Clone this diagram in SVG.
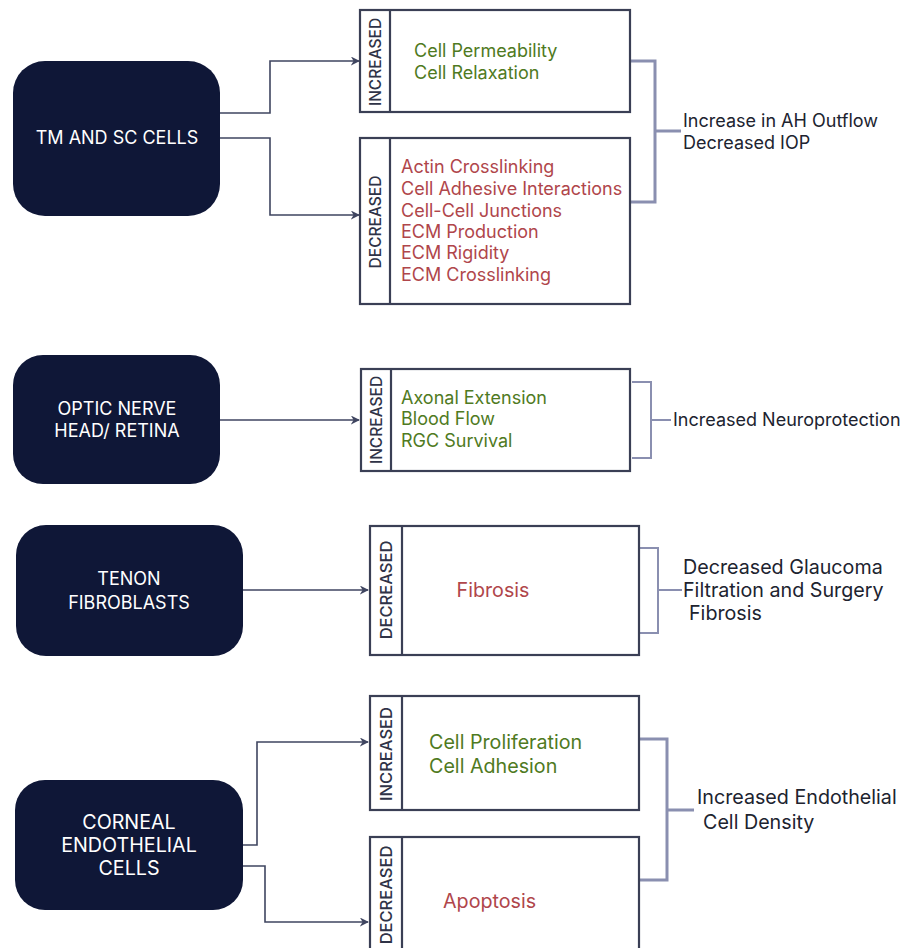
<svg xmlns="http://www.w3.org/2000/svg" width="909" height="948" viewBox="0 0 909 948">
<defs>
<marker id="ah" viewBox="0 0 10 10" refX="9" refY="5" markerWidth="9" markerHeight="9" markerUnits="userSpaceOnUse" orient="auto">
<path d="M0,0 L10,5 L0,10 L3,5 z" fill="#3f4560"/>
</marker>
<style>
.node{fill:#0f1737}
.nt{fill:#ffffff;font-family:Inter,"Liberation Sans",sans-serif;font-size:18px;text-anchor:middle}
.box{fill:#ffffff;stroke:#3a3f55;stroke-width:2.2}
.strip{stroke:#3a3f55;stroke-width:2.2}
.lab{fill:#2f3347;font-family:Inter,"Liberation Sans",sans-serif;font-size:15.5px;font-weight:500;text-anchor:middle}
.lab2{font-size:16.5px}
.g{fill:#4f7a22;font-family:Inter,"Liberation Sans",sans-serif;font-size:18px}
.r{fill:#b0464b;font-family:Inter,"Liberation Sans",sans-serif;font-size:18px}
.out{fill:#20232f;font-family:Inter,"Liberation Sans",sans-serif;font-size:18px}
.big{font-size:19.7px}
.con{fill:none;stroke:#3f4560;stroke-width:1.6}
.br{fill:none;stroke:#8a8fb0;stroke-width:3}
</style>
</defs>

<g id="connectors">
<path class="con" d="M220,113 H270 V61 H359" marker-end="url(#ah)"/>
<path class="con" d="M220,138 H270 V215 H359" marker-end="url(#ah)"/>
<path class="con" d="M220,420 H359" marker-end="url(#ah)"/>
<path class="con" d="M243,590 H368" marker-end="url(#ah)"/>
<path class="con" d="M243,845 H257 V742 H368" marker-end="url(#ah)"/>
<path class="con" d="M243,866 H265 V922 H368" marker-end="url(#ah)"/>
<path class="br" d="M630,61 H655 V202 H630 M655,131 H681"/>
<path class="br" style="stroke-width:2" d="M632,382 H651 V458 H632 M651,420 H671"/>
<path class="br" style="stroke-width:2" d="M636,548 H658 V633 H636 M658,590 H682"/>
<path class="br" d="M639,739 H667 V880 H639 M667,810 H694"/>
</g>

<g id="node-tm">
<rect class="node" x="13" y="61" width="207" height="155" rx="32"/>
<text class="nt" x="117" y="144">TM AND SC CELLS</text>
</g>

<g id="box-tm-increased">
<rect class="box" x="360" y="10" width="270" height="102"/>
<line class="strip" x1="390" y1="10" x2="390" y2="112"/>
<text class="lab" transform="translate(380.5,62) rotate(-90)">INCREASED</text>
<text class="g" x="414" y="57">Cell Permeability</text>
<text class="g" x="414" y="79">Cell Relaxation</text>
</g>

<g id="box-tm-decreased">
<rect class="box" x="360" y="138" width="270" height="166"/>
<line class="strip" x1="390" y1="138" x2="390" y2="304"/>
<text class="lab" transform="translate(380.5,222) rotate(-90)">DECREASED</text>
<text class="r" x="401" y="173">Actin Crosslinking</text>
<text class="r" x="401" y="195">Cell Adhesive Interactions</text>
<text class="r" x="401" y="217">Cell-Cell Junctions</text>
<text class="r" x="401" y="238">ECM Production</text>
<text class="r" x="401" y="259">ECM Rigidity</text>
<text class="r" x="401" y="281">ECM Crosslinking</text>
</g>

<g id="out-tm">
<text class="out" x="683" y="127">Increase in AH Outflow</text>
<text class="out" x="683" y="149">Decreased IOP</text>
</g>

<g id="node-onh">
<rect class="node" x="13" y="355" width="207" height="129" rx="30"/>
<text class="nt" x="117" y="415">OPTIC NERVE</text>
<text class="nt" x="117" y="437">HEAD/ RETINA</text>
</g>

<g id="box-onh">
<rect class="box" x="361" y="369" width="269" height="102"/>
<line class="strip" x1="391" y1="369" x2="391" y2="471"/>
<text class="lab" transform="translate(381.5,420) rotate(-90)">INCREASED</text>
<text class="g" x="401" y="404">Axonal Extension</text>
<text class="g" x="401" y="425">Blood Flow</text>
<text class="g" x="401" y="447">RGC Survival</text>
</g>

<g id="out-onh">
<text class="out" x="673" y="426">Increased Neuroprotection</text>
</g>

<g id="node-tenon">
<rect class="node" x="16" y="525" width="227" height="131" rx="30"/>
<text class="nt" x="129" y="585">TENON</text>
<text class="nt" x="129" y="609">FIBROBLASTS</text>
</g>

<g id="box-tenon">
<rect class="box" x="370" y="526" width="269" height="129"/>
<line class="strip" x1="402" y1="526" x2="402" y2="655"/>
<text class="lab lab2" transform="translate(392,590) rotate(-90)">DECREASED</text>
<text class="r big" x="493" y="597" text-anchor="middle">Fibrosis</text>
</g>

<g id="out-tenon">
<text class="out big" x="683" y="574">Decreased Glaucoma</text>
<text class="out big" x="683" y="597">Filtration and Surgery</text>
<text class="out big" x="689" y="620">Fibrosis</text>
</g>

<g id="node-corneal">
<rect class="node" x="15" y="780" width="228" height="130" rx="30"/>
<text class="nt big" x="129" y="829">CORNEAL</text>
<text class="nt big" x="129" y="852">ENDOTHELIAL</text>
<text class="nt big" x="129" y="875">CELLS</text>
</g>

<g id="box-corneal-increased">
<rect class="box" x="370" y="696" width="269" height="114"/>
<line class="strip" x1="402" y1="696" x2="402" y2="810"/>
<text class="lab lab2" transform="translate(392,754) rotate(-90)">INCREASED</text>
<text class="g big" x="429" y="749">Cell Proliferation</text>
<text class="g big" x="429" y="773">Cell Adhesion</text>
</g>

<g id="box-corneal-decreased">
<rect class="box" x="370" y="837" width="269" height="130"/>
<line class="strip" x1="402" y1="837" x2="402" y2="967"/>
<text class="lab lab2" transform="translate(392,895) rotate(-90)">DECREASED</text>
<text class="r big" x="443" y="908">Apoptosis</text>
</g>

<g id="out-corneal">
<text class="out big" x="697" y="804">Increased Endothelial</text>
<text class="out big" x="703" y="829">Cell Density</text>
</g>
</svg>
